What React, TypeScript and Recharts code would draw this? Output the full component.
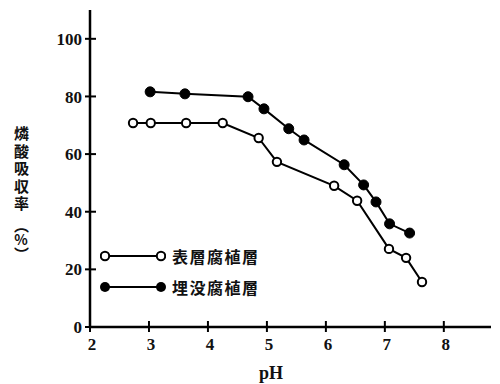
import type { FC } from "react";
import { LineChart, Line, XAxis, YAxis } from "recharts";

// pH と燐酸吸収率 (%)
const surfacePH = [2.73, 3.03, 3.63, 4.25, 4.86, 5.17, 6.14, 6.53, 7.07, 7.36, 7.63];
const surfaceRate = [70.8, 70.8, 70.8, 70.8, 65.6, 57.3, 49.0, 43.8, 27.1, 24.0, 15.6];
const buriedPH = [3.02, 3.61, 4.68, 4.95, 5.37, 5.63, 6.31, 6.64, 6.85, 7.08, 7.42];
const buriedRate = [81.6, 80.9, 79.9, 75.7, 68.8, 64.9, 56.3, 49.3, 43.4, 35.8, 32.6];

const xTicks = [2, 3, 4, 5, 6, 7, 8];
const yTicks = [0, 20, 40, 60, 80, 100];

const seriesNames = ["表層腐植層", "埋没腐植層"];

const surfaceData = surfacePH.map((ph, i) => ({ ph, rate: surfaceRate[i] }));
const buriedData = buriedPH.map((ph, i) => ({ ph, rate: buriedRate[i] }));

const TICK_FONT = {
  fontFamily: "'Liberation Serif', 'DejaVu Serif', serif",
  fontWeight: 700,
  fontSize: 17,
  fill: "#111",
};

const YTick: FC<any> = ({ x, y, payload }) => (
  <g>
    <line x1={x - 5} x2={x + 6} y1={y} y2={y} stroke="#000" strokeWidth={2} />
    <text x={x - 8} y={y} dy="0.36em" textAnchor="end" {...TICK_FONT}>
      {payload.value}
    </text>
  </g>
);

const XTick: FC<any> = ({ x, y, payload }) => (
  <g>
    <line x1={x} x2={x} y1={y - 6} y2={y + 5} stroke="#000" strokeWidth={2} />
    <text x={x + 2} y={y + 23} textAnchor="middle" {...TICK_FONT}>
      {payload.value}
    </text>
  </g>
);

const openDot = (props: any) => (
  <circle key={props.index} cx={props.cx} cy={props.cy} r={4.2} fill="#fff" stroke="#000" strokeWidth={2} />
);
const filledDot = (props: any) => (
  <circle key={props.index} cx={props.cx} cy={props.cy} r={5} fill="#000" stroke="#000" strokeWidth={1} />
);

// 凡例 (グラフ内左下)
const LegendBox = () => (
  <div style={{ fontFamily: "'Noto Sans CJK JP', sans-serif", fontWeight: 700, fontSize: 16 }}>
    {seriesNames.map((name, i) => (
      <div key={name} style={{ display: "flex", alignItems: "center", height: 31 }}>
        <svg width={66} height={14}>
          <line x1={5} x2={61} y1={7} y2={7} stroke="#000" strokeWidth={2} />
          {[5, 61].map((cx) =>
            i === 0 ? (
              <circle key={cx} cx={cx} cy={7} r={4.2} fill="#fff" stroke="#000" strokeWidth={2} />
            ) : (
              <circle key={cx} cx={cx} cy={7} r={5} fill="#000" />
            )
          )}
        </svg>
        <span style={{ marginLeft: 6, letterSpacing: 1.5, color: "#111" }}>{name}</span>
      </div>
    ))}
  </div>
);

const App: FC = () => (
  <div style={{ position: "relative", width: 492, height: 376 }}>
    <LineChart width={492} height={376} margin={{ top: 2, right: 9, bottom: 0, left: 0 }}>
      <XAxis
        type="number"
        dataKey="ph"
        domain={[2, 8.8]}
        ticks={xTicks}
        allowDataOverflow
        height={57}
        tickSize={0}
        tickMargin={0}
        tickLine={false}
        tick={<XTick />}
        axisLine={{ stroke: "#000", strokeWidth: 2.5 }}
      />
      <YAxis
        type="number"
        dataKey="rate"
        domain={[0, 110]}
        ticks={yTicks}
        allowDataOverflow
        width={82}
        tickSize={0}
        tickMargin={0}
        tickLine={false}
        tick={<YTick />}
        axisLine={{ stroke: "#000", strokeWidth: 2.5 }}
      />
      <Line
        data={surfaceData}
        dataKey="rate"
        name={seriesNames[0]}
        stroke="#000"
        strokeWidth={2}
        dot={openDot}
        isAnimationActive={false}
      />
      <Line
        data={buriedData}
        dataKey="rate"
        name={seriesNames[1]}
        stroke="#000"
        strokeWidth={2}
        dot={filledDot}
        isAnimationActive={false}
      />
    </LineChart>
    <div style={{ position: "absolute", left: 92, top: 232 }}>
      <LegendBox />
    </div>
    <div
      style={{
        position: "absolute",
        left: 6,
        top: 118,
        writingMode: "vertical-rl",
        fontFamily: "'Noto Sans CJK JP', sans-serif",
        fontWeight: 700,
        fontSize: 15,
        lineHeight: 1,
        letterSpacing: 2.5,
        color: "#111",
      }}
    >
      燐酸吸収率
      <span style={{ letterSpacing: 0, marginTop: 4 }}>
        （<span style={{ textOrientation: "upright", fontSize: 14 }}>%</span>）
      </span>
    </div>
    <div
      style={{
        position: "absolute",
        left: 251,
        top: 355,
        fontFamily: "'Liberation Serif', serif",
        fontWeight: 700,
        fontSize: 18,
        color: "#111",
      }}
    >
      pH
    </div>
  </div>
);

export default App;
